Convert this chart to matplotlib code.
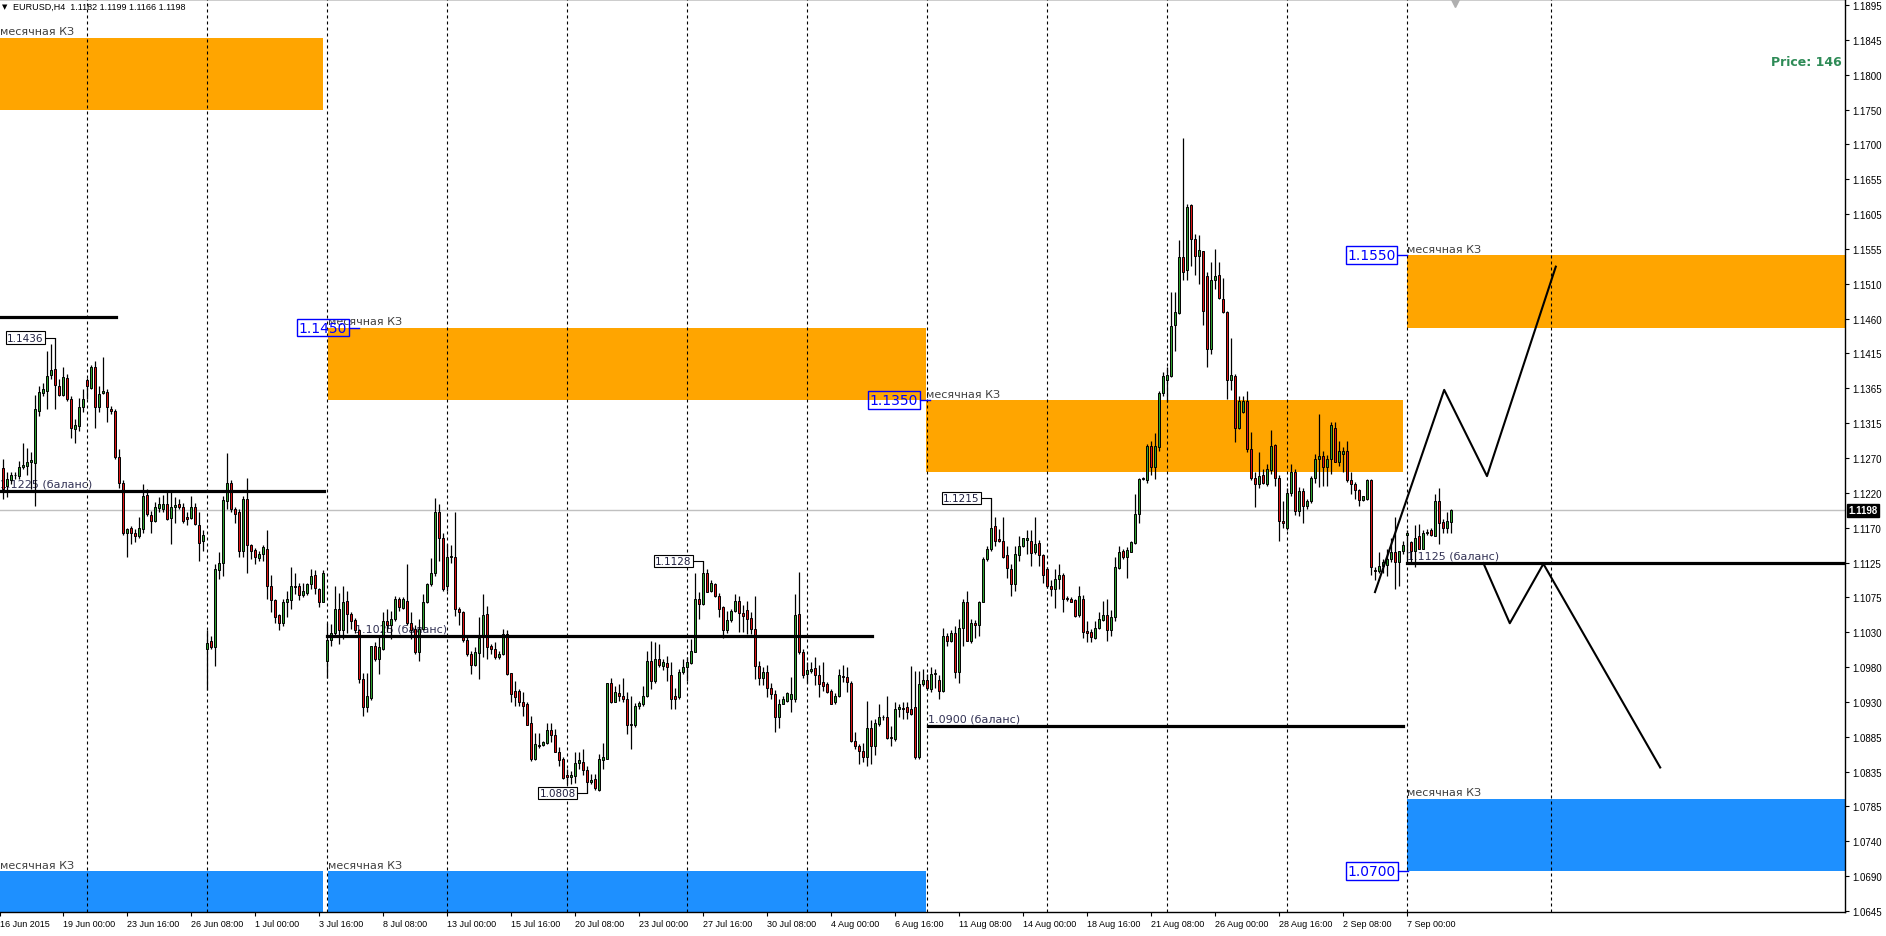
import numpy as np
import matplotlib.pyplot as plt
import matplotlib.transforms as mtrans
from matplotlib.patches import Rectangle

plt.rcParams['font.family'] = ['DejaVu Sans']

# EURUSD H4, bar 0 = 16 Jun 2015 12:00 ... bar 362 = 8 Sep 2015 20:00
opens = [
    1.1256, 1.1231, 1.1239, 1.1246, 1.1245, 1.1257, 1.1259, 1.1264, 1.1263, 1.1335,
    1.1359, 1.1363, 1.1384, 1.1393, 1.1370, 1.1357, 1.1380, 1.1351, 1.1310, 1.1314,
    1.1340, 1.1378, 1.1367, 1.1395, 1.1340, 1.1359, 1.1361, 1.1338, 1.1335, 1.1271,
    1.1235, 1.1166, 1.1173, 1.1167, 1.1163, 1.1172, 1.1219, 1.1191, 1.1183, 1.1201,
    1.1200, 1.1206, 1.1187, 1.1203, 1.1206, 1.1203, 1.1188, 1.1187, 1.1203, 1.1177,
    1.1155, 1.1006, 1.1018, 1.1009, 1.1116, 1.1125, 1.1210, 1.1235, 1.1199, 1.1195,
    1.1141, 1.1213, 1.1150, 1.1143, 1.1132, 1.1137, 1.1145, 1.1094, 1.1074, 1.1053,
    1.1043, 1.1072, 1.1074, 1.1094, 1.1093, 1.1081, 1.1084, 1.1096, 1.1108, 1.1089,
    1.1071, 1.0990, 1.1019, 1.1028, 1.1061, 1.1032, 1.1073, 1.1055, 1.1047, 1.1032,
    1.0965, 1.0926, 1.0939, 1.1010, 1.0993, 1.1006, 1.1045, 1.1039, 1.1048, 1.1075,
    1.1063, 1.1073, 1.1043, 1.1034, 1.1003, 1.1034, 1.1072, 1.1096, 1.1111, 1.1195,
    1.1160, 1.1093, 1.1133, 1.1133, 1.1062, 1.1057, 1.1019, 1.1000, 1.0985, 1.1001,
    1.1026, 1.1055, 1.1011, 1.1006, 1.0995, 1.0999, 1.1027, 1.0973, 1.0949, 1.0949,
    1.0934, 1.0930, 1.0904, 1.0855, 1.0874, 1.0874, 1.0877, 1.0895, 1.0888, 1.0864,
    1.0855, 1.0832, 1.0830, 1.0831, 1.0849, 1.0851, 1.0840, 1.0823, 1.0827, 1.0812,
    1.0853, 1.0855, 1.0959, 1.0934, 1.0946, 1.0941, 1.0937, 1.0902, 1.0901, 1.0928,
    1.0931, 1.0941, 1.0990, 1.0963, 1.0993, 1.0983, 1.0987, 1.0970, 1.0941, 1.0940,
    1.0975, 1.0981, 1.0987, 1.1003, 1.1076, 1.1068, 1.1112, 1.1087, 1.1096, 1.1079,
    1.1064, 1.1033, 1.1047, 1.1059, 1.1073, 1.1056, 1.1060, 1.1049, 1.1034, 1.0983,
    1.0966, 1.0975, 1.0952, 1.0945, 1.0912, 1.0931, 1.0935, 1.0937, 1.0937, 1.1055,
    1.1003, 1.0972, 1.0976, 1.0980, 1.0970, 1.0961, 1.0958, 1.0949, 1.0933, 1.0941,
    1.0969, 1.0968, 1.0959, 1.0880, 1.0873, 1.0866, 1.0857, 1.0897, 1.0872, 1.0903,
    1.0912, 1.0912, 1.0885, 1.0882, 1.0923, 1.0925, 1.0926, 1.0924, 1.0927, 1.0858,
    1.0958, 1.0964, 1.0951, 1.0972, 1.0964, 1.0949, 1.1024, 1.1017, 1.1029, 1.0975,
    1.1035, 1.1072, 1.1017, 1.1043, 1.1039, 1.1072, 1.1131, 1.1144, 1.1176, 1.1158,
    1.1156, 1.1136, 1.1117, 1.1096, 1.1136, 1.1148, 1.1157, 1.1156, 1.1140, 1.1153,
    1.1136, 1.1117, 1.1094, 1.1089, 1.1103, 1.1109, 1.1077, 1.1075, 1.1074, 1.1053,
    1.1075, 1.1031, 1.1030, 1.1021, 1.1036, 1.1047, 1.1053, 1.1033, 1.1050, 1.1118,
    1.1142, 1.1134, 1.1140, 1.1153, 1.1193, 1.1241, 1.1240, 1.1286, 1.1257, 1.1285,
    1.1360, 1.1377, 1.1383, 1.1454, 1.1470, 1.1547, 1.1529, 1.1619, 1.1572, 1.1549,
    1.1555, 1.1521, 1.1420, 1.1515, 1.1522, 1.1490, 1.1472, 1.1377, 1.1383, 1.1311,
    1.1333, 1.1348, 1.1282, 1.1242, 1.1234, 1.1246, 1.1234, 1.1253, 1.1288, 1.1243,
    1.1183, 1.1174, 1.1222, 1.1251, 1.1197, 1.1225, 1.1204, 1.1210, 1.1243, 1.1268,
    1.1273, 1.1257, 1.1269, 1.1312, 1.1264, 1.1276, 1.1280, 1.1239, 1.1234, 1.1226,
    1.1212, 1.1214, 1.1240, 1.1116, 1.1114, 1.1121, 1.1123, 1.1130, 1.1140, 1.1126,
    1.1142, 1.1164, 1.1154, 1.1141, 1.1162, 1.1145, 1.1166, 1.1170, 1.1163, 1.1211,
    1.1182, 1.1173, 1.1182,
]
highs = [
    1.1269, 1.1250, 1.1250, 1.1251, 1.1266, 1.1291, 1.1284, 1.1278, 1.1357, 1.1370,
    1.1373, 1.1418, 1.1427, 1.1436, 1.1379, 1.1395, 1.1386, 1.1356, 1.1324, 1.1353,
    1.1365, 1.1380, 1.1398, 1.1404, 1.1370, 1.1409, 1.1365, 1.1342, 1.1338, 1.1282,
    1.1239, 1.1173, 1.1176, 1.1172, 1.1188, 1.1234, 1.1227, 1.1197, 1.1209, 1.1216,
    1.1219, 1.1226, 1.1223, 1.1216, 1.1213, 1.1208, 1.1195, 1.1218, 1.1208, 1.1195,
    1.1170, 1.1032, 1.1025, 1.1124, 1.1140, 1.1218, 1.1277, 1.1239, 1.1202, 1.1200,
    1.1218, 1.1243, 1.1151, 1.1146, 1.1141, 1.1150, 1.1170, 1.1108, 1.1075, 1.1055,
    1.1075, 1.1087, 1.1119, 1.1112, 1.1097, 1.1097, 1.1098, 1.1117, 1.1116, 1.1091,
    1.1116, 1.1043, 1.1041, 1.1094, 1.1084, 1.1094, 1.1087, 1.1057, 1.1049, 1.1034,
    1.0974, 1.0974, 1.1011, 1.1016, 1.1025, 1.1057, 1.1062, 1.1059, 1.1080, 1.1078,
    1.1078, 1.1124, 1.1057, 1.1039, 1.1048, 1.1082, 1.1097, 1.1132, 1.1215, 1.1206,
    1.1167, 1.1151, 1.1150, 1.1195, 1.1064, 1.1059, 1.1025, 1.1004, 1.1009, 1.1050,
    1.1082, 1.1066, 1.1013, 1.1016, 1.1004, 1.1034, 1.1032, 1.0974, 1.0963, 1.0951,
    1.0947, 1.0933, 1.0914, 1.0891, 1.0891, 1.0880, 1.0905, 1.0905, 1.0896, 1.0871,
    1.0857, 1.0841, 1.0838, 1.0864, 1.0864, 1.0868, 1.0845, 1.0834, 1.0834, 1.0861,
    1.0877, 1.0960, 1.0966, 1.0956, 1.0958, 1.0966, 1.0947, 1.0942, 1.0932, 1.0935,
    1.0956, 1.1004, 1.1018, 1.1016, 1.1013, 1.0993, 1.0997, 1.0988, 1.0953, 1.0979,
    1.0993, 1.0995, 1.1020, 1.1112, 1.1085, 1.1128, 1.1117, 1.1101, 1.1098, 1.1084,
    1.1066, 1.1059, 1.1062, 1.1082, 1.1080, 1.1067, 1.1073, 1.1057, 1.1080, 1.0990,
    1.0981, 1.0984, 1.0960, 1.0950, 1.0937, 1.0942, 1.0947, 1.0968, 1.1082, 1.1113,
    1.1006, 1.0989, 1.0988, 1.0995, 1.0984, 1.0988, 1.0961, 1.0951, 1.0946, 1.0979,
    1.0984, 1.0981, 1.0963, 1.0892, 1.0875, 1.0877, 1.0935, 1.0908, 1.0910, 1.0930,
    1.0915, 1.0942, 1.0900, 1.0934, 1.0931, 1.0933, 1.0933, 1.0983, 1.0976, 1.0976,
    1.0979, 1.0972, 1.0982, 1.0979, 1.0970, 1.1035, 1.1029, 1.1032, 1.1038, 1.1048,
    1.1075, 1.1087, 1.1048, 1.1046, 1.1073, 1.1133, 1.1149, 1.1215, 1.1188, 1.1172,
    1.1188, 1.1148, 1.1124, 1.1149, 1.1163, 1.1160, 1.1170, 1.1170, 1.1188, 1.1157,
    1.1137, 1.1119, 1.1101, 1.1117, 1.1124, 1.1112, 1.1080, 1.1078, 1.1076, 1.1094,
    1.1081, 1.1045, 1.1034, 1.1045, 1.1057, 1.1073, 1.1075, 1.1060, 1.1133, 1.1148,
    1.1145, 1.1147, 1.1156, 1.1220, 1.1243, 1.1244, 1.1289, 1.1293, 1.1305, 1.1363,
    1.1389, 1.1395, 1.1499, 1.1499, 1.1571, 1.1711, 1.1620, 1.1620, 1.1579, 1.1577,
    1.1556, 1.1526, 1.1540, 1.1559, 1.1540, 1.1518, 1.1473, 1.1436, 1.1386, 1.1356,
    1.1356, 1.1363, 1.1306, 1.1250, 1.1278, 1.1255, 1.1262, 1.1308, 1.1289, 1.1246,
    1.1211, 1.1228, 1.1262, 1.1255, 1.1230, 1.1228, 1.1213, 1.1245, 1.1275, 1.1331,
    1.1280, 1.1274, 1.1319, 1.1320, 1.1294, 1.1285, 1.1294, 1.1250, 1.1237, 1.1227,
    1.1218, 1.1241, 1.1241, 1.1119, 1.1140, 1.1131, 1.1144, 1.1160, 1.1188, 1.1142,
    1.1156, 1.1170, 1.1156, 1.1177, 1.1179, 1.1170, 1.1172, 1.1173, 1.1221, 1.1229,
    1.1186, 1.1196, 1.1199,
]
lows = [
    1.1213, 1.1216, 1.1234, 1.1241, 1.1241, 1.1255, 1.1246, 1.1227, 1.1204, 1.1328,
    1.1356, 1.1338, 1.1379, 1.1338, 1.1356, 1.1356, 1.1349, 1.1297, 1.1291, 1.1307,
    1.1333, 1.1351, 1.1365, 1.1311, 1.1333, 1.1358, 1.1319, 1.1331, 1.1269, 1.1229,
    1.1164, 1.1134, 1.1151, 1.1154, 1.1160, 1.1167, 1.1190, 1.1167, 1.1182, 1.1195,
    1.1195, 1.1185, 1.1151, 1.1180, 1.1200, 1.1181, 1.1177, 1.1186, 1.1177, 1.1128,
    1.1142, 1.0950, 1.1006, 1.0983, 1.1103, 1.1107, 1.1200, 1.1195, 1.1181, 1.1133,
    1.1133, 1.1111, 1.1131, 1.1124, 1.1128, 1.1128, 1.1075, 1.1057, 1.1043, 1.1032,
    1.1038, 1.1050, 1.1062, 1.1082, 1.1074, 1.1078, 1.1081, 1.1089, 1.1082, 1.1064,
    1.1071, 1.0967, 1.1011, 1.1025, 1.1013, 1.1020, 1.1029, 1.1034, 1.1029, 1.0960,
    1.0914, 1.0919, 1.0936, 1.0990, 1.0972, 1.1005, 1.1030, 1.1020, 1.1045, 1.1059,
    1.1061, 1.1039, 1.1020, 1.0999, 1.0990, 1.1032, 1.1070, 1.1094, 1.1107, 1.1128,
    1.1087, 1.1087, 1.1125, 1.1052, 1.1039, 1.1016, 1.0997, 1.0972, 1.0983, 1.0965,
    1.0995, 1.0993, 1.1000, 1.0993, 1.0993, 1.0998, 1.0970, 1.0933, 1.0928, 1.0928,
    1.0914, 1.0901, 1.0852, 1.0854, 1.0870, 1.0872, 1.0875, 1.0878, 1.0864, 1.0845,
    1.0827, 1.0820, 1.0820, 1.0822, 1.0841, 1.0832, 1.0808, 1.0820, 1.0812, 1.0811,
    1.0841, 1.0855, 1.0932, 1.0933, 1.0935, 1.0933, 1.0889, 1.0868, 1.0899, 1.0924,
    1.0928, 1.0940, 1.0951, 1.0960, 1.0981, 1.0977, 1.0963, 1.0924, 1.0924, 1.0937,
    1.0972, 1.0963, 1.0986, 1.1002, 1.1048, 1.1067, 1.1085, 1.1085, 1.1078, 1.1050,
    1.1021, 1.1028, 1.1044, 1.1057, 1.1030, 1.1030, 1.1027, 1.1027, 1.0965, 1.0957,
    1.0957, 1.0940, 1.0938, 1.0892, 1.0898, 1.0930, 1.0934, 1.0919, 1.0934, 1.1000,
    1.0967, 1.0960, 1.0974, 1.0957, 1.0940, 1.0949, 1.0946, 1.0930, 1.0930, 1.0940,
    1.0961, 1.0947, 1.0878, 1.0869, 1.0848, 1.0851, 1.0845, 1.0848, 1.0860, 1.0900,
    1.0908, 1.0882, 1.0873, 1.0880, 1.0913, 1.0910, 1.0910, 1.0915, 1.0855, 1.0855,
    1.0956, 1.0950, 1.0947, 1.0953, 1.0937, 1.0947, 1.1011, 1.1016, 1.0967, 1.0960,
    1.1010, 1.1017, 1.1015, 1.1022, 1.1025, 1.1071, 1.1128, 1.1142, 1.1148, 1.1154,
    1.1132, 1.1105, 1.1079, 1.1087, 1.1128, 1.1147, 1.1137, 1.1121, 1.1137, 1.1121,
    1.1098, 1.1090, 1.1079, 1.1063, 1.1089, 1.1057, 1.1073, 1.1071, 1.1051, 1.1051,
    1.1022, 1.1016, 1.1016, 1.1020, 1.1034, 1.1045, 1.1017, 1.1025, 1.1045, 1.1117,
    1.1131, 1.1105, 1.1140, 1.1151, 1.1181, 1.1239, 1.1235, 1.1246, 1.1241, 1.1279,
    1.1356, 1.1347, 1.1382, 1.1418, 1.1469, 1.1516, 1.1515, 1.1535, 1.1522, 1.1510,
    1.1454, 1.1395, 1.1413, 1.1503, 1.1490, 1.1470, 1.1351, 1.1364, 1.1292, 1.1310,
    1.1332, 1.1278, 1.1240, 1.1202, 1.1229, 1.1234, 1.1232, 1.1248, 1.1232, 1.1156,
    1.1174, 1.1171, 1.1218, 1.1192, 1.1190, 1.1180, 1.1200, 1.1208, 1.1235, 1.1230,
    1.1232, 1.1232, 1.1248, 1.1264, 1.1259, 1.1250, 1.1237, 1.1220, 1.1213, 1.1204,
    1.1211, 1.1212, 1.1108, 1.1101, 1.1111, 1.1112, 1.1107, 1.1126, 1.1089, 1.1094,
    1.1137, 1.1126, 1.1124, 1.1120, 1.1144, 1.1144, 1.1164, 1.1162, 1.1162, 1.1151,
    1.1167, 1.1166, 1.1166,
]
closes = [
    1.1227, 1.1241, 1.1246, 1.1247, 1.1257, 1.1261, 1.1265, 1.1267, 1.1338, 1.1361,
    1.1365, 1.1383, 1.1392, 1.1371, 1.1357, 1.1382, 1.1351, 1.1312, 1.1315, 1.1341,
    1.1351, 1.1369, 1.1395, 1.1340, 1.1358, 1.1362, 1.1340, 1.1335, 1.1271, 1.1236,
    1.1167, 1.1172, 1.1166, 1.1162, 1.1174, 1.1217, 1.1193, 1.1183, 1.1203, 1.1206,
    1.1207, 1.1186, 1.1203, 1.1205, 1.1202, 1.1183, 1.1186, 1.1202, 1.1179, 1.1153,
    1.1164, 1.1015, 1.1009, 1.1117, 1.1125, 1.1212, 1.1235, 1.1200, 1.1193, 1.1141,
    1.1213, 1.1150, 1.1142, 1.1134, 1.1137, 1.1147, 1.1094, 1.1074, 1.1051, 1.1043,
    1.1072, 1.1075, 1.1093, 1.1092, 1.1081, 1.1086, 1.1096, 1.1107, 1.1090, 1.1071,
    1.1111, 1.1019, 1.1028, 1.1061, 1.1032, 1.1072, 1.1055, 1.1045, 1.1032, 1.0965,
    1.0926, 1.0941, 1.1010, 1.0993, 1.1009, 1.1045, 1.1040, 1.1048, 1.1075, 1.1064,
    1.1075, 1.1043, 1.1033, 1.1002, 1.1034, 1.1072, 1.1096, 1.1112, 1.1195, 1.1160,
    1.1089, 1.1133, 1.1135, 1.1062, 1.1058, 1.1019, 1.1000, 1.0985, 1.1002, 1.1021,
    1.1053, 1.1009, 1.1007, 1.0995, 1.0999, 1.1027, 1.0972, 1.0945, 1.0940, 1.0934,
    1.0928, 1.0902, 1.0855, 1.0875, 1.0873, 1.0878, 1.0895, 1.0888, 1.0865, 1.0854,
    1.0828, 1.0830, 1.0832, 1.0849, 1.0854, 1.0840, 1.0823, 1.0826, 1.0814, 1.0855,
    1.0858, 1.0959, 1.0934, 1.0947, 1.0942, 1.0937, 1.0902, 1.0903, 1.0928, 1.0932,
    1.0942, 1.0990, 1.0963, 1.0993, 1.0984, 1.0989, 1.0982, 1.0938, 1.0937, 1.0975,
    1.0981, 1.0989, 1.1004, 1.1076, 1.1068, 1.1112, 1.1085, 1.1097, 1.1079, 1.1062,
    1.1032, 1.1047, 1.1059, 1.1073, 1.1056, 1.1052, 1.1048, 1.1034, 1.0983, 1.0966,
    1.0975, 1.0952, 1.0945, 1.0912, 1.0931, 1.0937, 1.0946, 1.0945, 1.1053, 1.1002,
    1.0970, 1.0978, 1.0979, 1.0970, 1.0958, 1.0956, 1.0947, 1.0931, 1.0942, 1.0970,
    1.0968, 1.0961, 1.0879, 1.0873, 1.0866, 1.0857, 1.0897, 1.0872, 1.0905, 1.0912,
    1.0913, 1.0884, 1.0883, 1.0924, 1.0926, 1.0924, 1.0919, 1.0917, 1.0857, 1.0958,
    1.0964, 1.0952, 1.0972, 1.0973, 1.0948, 1.1024, 1.1017, 1.1029, 1.0975, 1.1036,
    1.1072, 1.1018, 1.1042, 1.1039, 1.1072, 1.1131, 1.1145, 1.1174, 1.1156, 1.1156,
    1.1134, 1.1118, 1.1096, 1.1138, 1.1148, 1.1159, 1.1160, 1.1139, 1.1151, 1.1136,
    1.1108, 1.1094, 1.1089, 1.1103, 1.1109, 1.1076, 1.1075, 1.1072, 1.1052, 1.1080,
    1.1030, 1.1029, 1.1023, 1.1036, 1.1048, 1.1053, 1.1033, 1.1050, 1.1119, 1.1140,
    1.1134, 1.1143, 1.1154, 1.1193, 1.1241, 1.1242, 1.1286, 1.1257, 1.1286, 1.1360,
    1.1383, 1.1384, 1.1452, 1.1471, 1.1547, 1.1527, 1.1617, 1.1572, 1.1549, 1.1557,
    1.1473, 1.1420, 1.1515, 1.1521, 1.1491, 1.1471, 1.1377, 1.1384, 1.1312, 1.1349,
    1.1349, 1.1282, 1.1242, 1.1234, 1.1245, 1.1235, 1.1255, 1.1287, 1.1243, 1.1183,
    1.1181, 1.1222, 1.1251, 1.1197, 1.1225, 1.1204, 1.1211, 1.1243, 1.1268, 1.1273,
    1.1257, 1.1269, 1.1315, 1.1264, 1.1279, 1.1280, 1.1239, 1.1234, 1.1226, 1.1212,
    1.1217, 1.1240, 1.1119, 1.1114, 1.1121, 1.1126, 1.1130, 1.1140, 1.1126, 1.1142,
    1.1150, 1.1166, 1.1141, 1.1160, 1.1145, 1.1166, 1.1168, 1.1164, 1.1211, 1.1181,
    1.1173, 1.1183, 1.1198,
]
assert len(opens) == len(highs) == len(lows) == len(closes) == 363

price_labels = ['1.0645', '1.0690', '1.0740', '1.0785', '1.0835', '1.0885', '1.0930',
                '1.0980', '1.1030', '1.1075', '1.1125', '1.1170', '1.1220', '1.1270',
                '1.1315', '1.1365', '1.1415', '1.1460', '1.1510', '1.1555', '1.1605',
                '1.1655', '1.1700', '1.1750', '1.1800', '1.1845', '1.1895']
time_labels = ['19 Jun 00:00', '23 Jun 16:00', '26 Jun 08:00', '1 Jul 00:00', '3 Jul 16:00',
               '8 Jul 08:00', '13 Jul 00:00', '15 Jul 16:00', '20 Jul 08:00', '23 Jul 00:00',
               '27 Jul 16:00', '30 Jul 08:00', '4 Aug 00:00', '6 Aug 16:00', '11 Aug 08:00',
               '14 Aug 00:00', '18 Aug 16:00', '21 Aug 08:00', '26 Aug 00:00', '28 Aug 16:00',
               '2 Sep 08:00', '7 Sep 00:00']
week_bars = [21, 51, 81, 111, 141, 171, 201, 231, 261, 291, 321, 351, 387]

# monthly zones: start bar, end bar, low, high, kind
zone_start = [-1, 81.1, 230.7, 351.0, -1, 81.1, 351.0]
zone_end = [79.9, 230.7, 349.8, 470, 79.9, 230.7, 470]
zone_low = [1.1750, 1.1350, 1.1250, 1.1450, 1.0600, 1.0600, 1.0700]
zone_high = [1.1850, 1.1450, 1.1350, 1.1550, 1.0700, 1.0700, 1.0800]
zone_kind = ['sell', 'sell', 'sell', 'sell', 'buy', 'buy', 'buy']

# boxed level labels (zone index, text)
level_boxes = [(1, '1.1450', 1.1450, 86.4), (2, '1.1350', 1.1350, 229.2),
               (3, '1.1550', 1.1550, 348.6), (6, '1.0700', 1.0700, 348.7)]

# balance lines: start bar, end bar, price, label
bal_start = [-1, 81, 231.1, 351]
bal_end = [28.1, 217.2, 349.9, 470]
bal_price = [1.1465, 1.1025, 1.0900, 1.1125]
bal_label = [None, '1.1025 (баланс)', '1.0900 (баланс)', '1.1125 (баланс)']
bal_label_x = [None, 88, 231.1, 351]
bal1225 = (-1, 80.2, 1.1225, '1.1225 (баланс)')

# extreme price callouts: bar, price
extremes = [(13, 1.1436), (146, 1.0808), (175, 1.1128), (247, 1.1215)]

# forecast zigzags
zig1_x = [342.9, 360.2, 370.9, 388.1]
zig1_y = [1.1085, 1.1364, 1.1245, 1.1534]
zig2_x = [370.0, 376.6, 385.0, 414.2]
zig2_y = [1.1125, 1.1042, 1.1124, 1.0843]

last_price = 1.1198

W, H = 1886, 937
fig = plt.figure(figsize=(W / 100, H / 100), dpi=100)
ax = fig.add_axes([0, 24 / H, 1845 / W, 913 / H])
XL = (-0.83, 460.4)
YL = (1.06436, 1.19033)
ax.set_xlim(*XL)
ax.set_ylim(*YL)

orange, blue = '#ffa500', '#1e90ff'
for x0, x1, lo, hi, kind in zip(zone_start, zone_end, zone_low, zone_high, zone_kind):
    ax.add_patch(Rectangle((x0, lo), x1 - x0, hi - lo, color=orange if kind == 'sell' else blue,
                           lw=0, zorder=1))
    ax.text(max(x0, XL[0]), hi + 0.0002, 'месячная КЗ', fontsize=8, color='#404040',
            ha='left', va='bottom', zorder=2)

for xb in week_bars:
    ax.axvline(xb, color='black', lw=0.8, dashes=(2.7, 2.7), zorder=2)

ax.axhline(last_price, color='#c0c0c0', lw=1, zorder=2)

# candles
x = np.arange(len(opens))
o, h, l, c = map(np.array, (opens, highs, lows, closes))
ax.vlines(x, l, h, color='black', lw=0.9, zorder=3)
body = np.maximum(np.abs(c - o), 0.00004)
cols = np.where(c >= o, '#2fa02f', '#dc1414')
ax.bar(x, body, bottom=np.minimum(o, c), width=0.55, color=cols, edgecolor='black',
       linewidth=0.7, zorder=4)

# balance lines
x0, x1, p, s = bal1225
ax.plot([x0, x1], [p, p], color='black', lw=2.3, zorder=5)
ax.text(x0 + 0.2, p + 0.0003, s, fontsize=8, color='#333355', ha='left', va='bottom', zorder=2)
for x0, x1, p, s, sx in zip(bal_start, bal_end, bal_price, bal_label, bal_label_x):
    ax.plot([x0, x1], [p, p], color='black', lw=2.3, zorder=5)
    if s:
        ax.text(sx, p + 0.0003, s, fontsize=8, color='#333355', ha='left', va='bottom', zorder=2)

# boxed levels
for zi, s, p, xr in level_boxes:
    ax.text(xr - 0.5, p, s, fontsize=10, color='blue', ha='right', va='center', zorder=6,
            bbox=dict(boxstyle='square,pad=0.12', fc='none', ec='blue', lw=1))
    ax.plot([xr, xr + 2.4], [p, p], color='blue', lw=1, zorder=6)

# extremes callouts
for b, p in extremes:
    ax.text(b - 2.9, p, f'{p:.4f}', fontsize=7.5, color='#202040', ha='right', va='center',
            zorder=6, bbox=dict(boxstyle='square,pad=0.12', fc='white', ec='black', lw=0.8))
    ax.plot([b - 2.4, b], [p, p], color='black', lw=0.8, zorder=6)

# zigzags
ax.plot(zig1_x, zig1_y, color='black', lw=1.5, zorder=6)
ax.plot(zig2_x, zig2_y, color='black', lw=1.5, zorder=6)

# axes styling
for sp in ax.spines.values():
    sp.set_color('black')
    sp.set_linewidth(1)
ax.spines['left'].set_visible(False)
ax.yaxis.tick_right()
ax.set_yticks(np.linspace(1.0645, 1.1895, len(price_labels)))
ax.set_yticklabels(price_labels, fontfamily='Liberation Sans', fontsize=7)
ax.tick_params(axis='y', length=3, width=0.8, pad=2, direction='out')
ax.set_xticks([-0.8] + [15 + 16 * i for i in range(len(time_labels))])
ax.set_xticklabels(['16 Jun 2015'] + time_labels, fontfamily='Liberation Sans', fontsize=6.5,
                   ha='left')
ax.tick_params(axis='x', length=3, width=0.8, pad=2, direction='out')

# current price tag on axis
tr = mtrans.blended_transform_factory(ax.transAxes, ax.transData)
ax.text(1.0 + 3 / 1845, last_price, f'{last_price:.4f}', transform=tr, fontsize=7,
        fontfamily='Liberation Sans', color='white', fontweight='bold', ha='left', va='center',
        bbox=dict(boxstyle='square,pad=0.15', fc='black', ec='black'), zorder=7, clip_on=False)

ax.text(0.998, 1 - 62 / 913, 'Price: 146', transform=ax.transAxes, fontsize=9,
        fontweight='bold', color='#2e8b57', ha='right', va='center')
ax.plot([362.9], [YL[1] - 0.0006], marker='v', color='#b0b0b0', ms=6, clip_on=False, zorder=7)

fig.text(2 / W, 1 - 7 / H, '▼', fontsize=5, va='center', ha='left')
fig.text(13 / W, 1 - 7 / H, 'EURUSD,H4  1.1182 1.1199 1.1166 1.1198', fontsize=6.5,
         fontfamily='Liberation Sans', va='center', ha='left')

fig.savefig('out.png', dpi=100, facecolor='white')
